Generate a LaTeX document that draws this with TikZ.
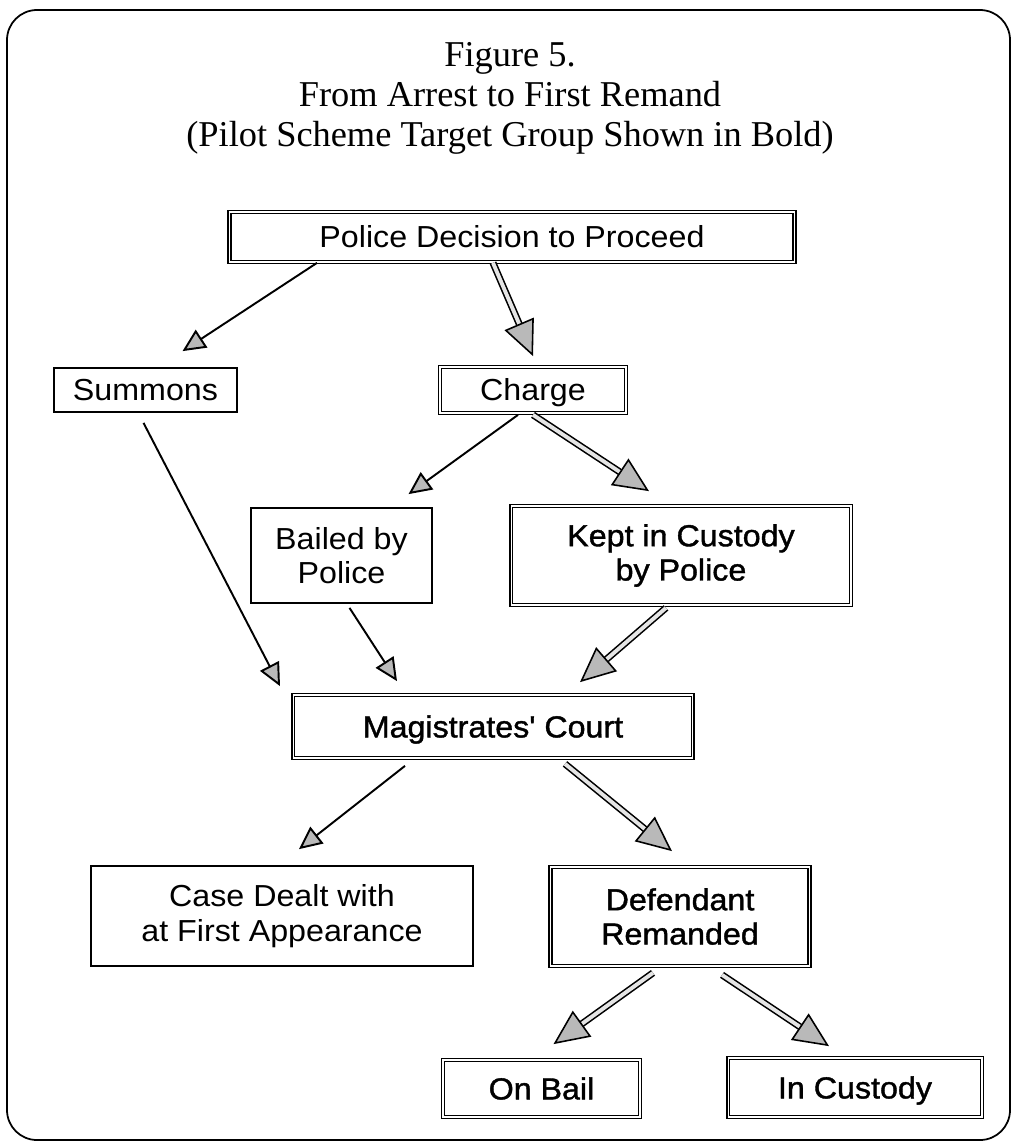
\documentclass[tikz,border=0pt]{standalone}
\usepackage{fontspec}
\setmainfont{Liberation Serif}
\newfontfamily\boxfont[FakeStretch=1.06]{Liberation Sans}
\newfontfamily\heavyfont[FakeStretch=1.06,FakeBold=1.3]{Liberation Sans}
\usetikzlibrary{arrows.meta,calc}

\begin{document}
\begin{tikzpicture}[x=0.02cm, y=-0.02cm,
    plainbox/.style={draw, line width=1pt, inner sep=0pt, align=center,
        font=\boxfont\fontsize{17.3}{19.5}\selectfont},
    targetbox/.style={plainbox, double, double distance=0.6pt, line width=1pt},
    heavytext/.style={font=\heavyfont\fontsize{17.3}{19.5}\selectfont},
    oneline/.style={text height=12.4pt, text depth=0pt},
    thinarrow/.style={line width=1.1pt,
        -{Triangle[length=13pt, width=12pt, fill=gray!55]}},
    boldarrow/.style={double=gray!20, double distance=2.2pt, line width=0.9pt,
        -{Triangle[length=20pt, width=18pt, fill=gray!55, line width=0.9pt]}}]
    \useasboundingbox (0,0) rectangle (1012,1146);
    \draw[line width=1pt, rounded corners=0.6cm] (7,10) rectangle (1010,1140);
    \node[font=\fontsize{20.7}{22.8}\selectfont, align=center, anchor=north, inner sep=0pt]
        (title) at (510,42) {Figure 5.\\From Arrest to First Remand\\(Pilot Scheme Target Group Shown in Bold)};
    % boxes
    \node[targetbox, oneline, minimum width=11.3cm, minimum height=1.0cm] (police) at (512,237) {Police Decision to Proceed};
    \node[plainbox, oneline, minimum width=3.66cm, minimum height=0.88cm] (summons) at (145.5,390) {Summons};
    \node[targetbox, oneline, minimum width=3.72cm, minimum height=0.92cm] (charge) at (533,390) {Charge};
    \node[plainbox, minimum width=3.62cm, minimum height=1.9cm] (bailed) at (341.5,555.5) {Bailed by\\Police};
    \node[targetbox, heavytext, minimum width=6.8cm, minimum height=1.98cm] (kept) at (681,555.5) {Kept in Custody\\by Police};
    \node[targetbox, heavytext, oneline, minimum width=8.0cm, minimum height=1.26cm] (court) at (493,726.5) {Magistrates' Court};
    \node[plainbox, minimum width=7.64cm, minimum height=2.0cm] (dealt) at (282,916) {Case Dealt with\\at First Appearance};
    \node[targetbox, heavytext, minimum width=5.18cm, minimum height=1.98cm] (remanded) at (680,916.5) {Defendant\\Remanded};
    \node[targetbox, heavytext, oneline, minimum width=3.94cm, minimum height=1.14cm] (onbail) at (541.5,1088.5) {On Bail};
    \node[targetbox, heavytext, oneline, minimum width=5.08cm, minimum height=1.18cm] (incustody) at (855,1087.5) {In Custody};
    % arrows
    \draw[thinarrow] ($(police.south)+(-195,0)$) -- ($(summons.north)+(37,-16)$);
    \draw[boldarrow] ($(police.south)+(-19,0)$) -- ($(charge.north)+(0,-10)$);
    \draw[thinarrow] ($(charge.south)+(-15,1)$) -- ($(bailed.north)+(67,-13)$);
    \draw[boldarrow] ($(charge.south)+(0,1)$) -- ($(kept.north)+(-32,-14)$);
    \draw[thinarrow] ($(summons.south)+(-2,10)$) -- ($(court.north)+(-213,-8)$);
    \draw[thinarrow] ($(bailed.south)+(8,4)$) -- ($(court.north)+(-96,-13)$);
    \draw[boldarrow] ($(kept.south)+(-15,2)$) -- ($(court.north)+(87,-12)$);
    \draw[thinarrow] ($(court.south)+(-88,7)$) -- ($(dealt.north)+(17,-16)$);
    \draw[boldarrow] ($(court.south)+(72,5)$) -- ($(remanded.north)+(-8,-15)$);
    \draw[boldarrow] ($(remanded.south)+(-27,6)$) -- ($(onbail.north)+(12,-15)$);
    \draw[boldarrow] ($(remanded.south)+(42,8)$) -- ($(incustody.north)+(-26,-11)$);
\end{tikzpicture}
\end{document}
